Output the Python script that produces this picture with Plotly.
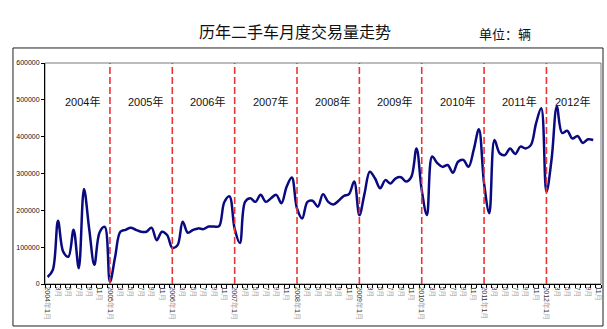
import plotly.graph_objects as go

# Monthly used-car transaction volume (vehicles), Jan 2004 - Oct 2012
years = [2004, 2005, 2006, 2007, 2008, 2009, 2010, 2011, 2012]
sales_2004 = [19000, 38000, 172000, 88000, 74000, 147000, 43000, 258000, 150000, 52000, 140000, 155000]
sales_2005 = [6000, 74000, 142000, 147000, 153000, 147000, 142000, 142000, 153000, 119000, 142000, 133000]
sales_2006 = [98000, 105000, 169000, 139000, 147000, 151000, 149000, 156000, 156000, 157000, 222000, 238000]
sales_2007 = [150000, 111000, 223000, 233000, 223000, 242000, 223000, 233000, 242000, 219000, 264000, 289000]
sales_2008 = [205000, 178000, 223000, 226000, 210000, 244000, 223000, 216000, 226000, 239000, 244000, 278000]
sales_2009 = [187000, 246000, 305000, 287000, 260000, 282000, 273000, 287000, 290000, 278000, 291000, 368000]
sales_2010 = [255000, 187000, 346000, 328000, 318000, 323000, 302000, 332000, 337000, 318000, 364000, 420000]
sales_2011 = [273000, 192000, 391000, 355000, 350000, 368000, 353000, 373000, 368000, 377000, 436000, 477000]
sales_2012 = [250000, 340000, 482000, 410000, 416000, 395000, 402000, 383000, 393000, 391000]

monthly_sales = (sales_2004 + sales_2005 + sales_2006 + sales_2007 + sales_2008
                 + sales_2009 + sales_2010 + sales_2011 + sales_2012)

# Category axis runs from 2004-1 to 2012-11
categories = [(y, m) for y in years for m in range(1, 13)][:107]
y_ticks = [0, 100000, 200000, 300000, 400000, 500000, 600000]

title_text = "历年二手车月度交易量走势"
unit_text = "单位：辆"

CJK = "Liberation Sans, Noto Sans CJK SC, sans-serif"


def month_label(y, m):
    dark = "#333333"
    light = "#a8a8a8"
    if m == 1:
        return (f'<span style="color:{dark}">{y}</span><span style="color:{light}">年</span>'
                f'<span style="color:{dark}">{m}</span><span style="color:{light}">月</span>')
    return f'<span style="color:{dark}">{m}</span><span style="color:{light}">月</span>'


tick_idx = [i for i in range(len(categories)) if i % 2 == 0]
tick_txt = [month_label(*categories[i]) for i in tick_idx]

fig = go.Figure()
fig.add_trace(go.Scatter(
    x=list(range(len(monthly_sales))),
    y=monthly_sales,
    mode="lines",
    line=dict(color="#0a0a80", width=2.5, shape="spline", smoothing=1.0),
    hoverinfo="skip",
))

shapes = []
# plot-area frame
shapes.append(dict(type="rect", xref="paper", yref="paper", x0=0, x1=1, y0=0, y1=1,
                   line=dict(color="#7a7a7a", width=1), layer="below"))
# outer chart border
shapes.append(dict(type="rect", xref="paper", yref="paper",
                   x0=-0.0576, x1=1.0036, y0=-0.19, y1=1.068,
                   line=dict(color="#202020", width=1)))

annotations = []
for yr in years:
    start = categories.index((yr, 1))
    if yr != years[0]:
        shapes.append(dict(type="line", xref="x", yref="y", x0=start, x1=start,
                           y0=0, y1=y_ticks[-1],
                           line=dict(color="#ee3333", width=1.6, dash="7px,3px")))
    label_x = min(start + 6.8, len(categories) - 6)
    annotations.append(dict(x=label_x, y=495000, xref="x", yref="y",
                            text=f"{yr}年", showarrow=False,
                            font=dict(size=11, color="#111111", family=CJK)))

annotations.append(dict(x=0.4496, y=1.1855, xref="paper", yref="paper", text=title_text,
                        showarrow=False, font=dict(size=16, color="#111111", family=CJK)))
annotations.append(dict(x=0.877, y=1.172, xref="paper", yref="paper", text=unit_text,
                        showarrow=False, font=dict(size=13, color="#111111", family=CJK)))

fig.update_layout(
    width=607, height=329,
    margin=dict(l=45, r=6, t=63, b=45),
    paper_bgcolor="white", plot_bgcolor="white",
    showlegend=False,
    font=dict(family=CJK),
    shapes=shapes,
    annotations=annotations,
    xaxis=dict(
        range=[-0.5, len(categories) - 0.5],
        tickmode="array", tickvals=tick_idx, ticktext=tick_txt,
        tickangle=90, tickfont=dict(size=7, color="#333333", family=CJK),
        ticks="", showline=True, linecolor="black", linewidth=1,
        showgrid=False, zeroline=False,
        minor=dict(tickmode="linear", tick0=-0.5, dtick=1, ticks="outside",
                   ticklen=3, tickcolor="black", showgrid=False),
    ),
    yaxis=dict(
        range=[0, y_ticks[-1]], tickmode="array", tickvals=y_ticks,
        ticktext=[str(v) for v in y_ticks],
        tickfont=dict(size=7, color="#111111", family="Liberation Sans"),
        ticks="outside", ticklen=3, tickcolor="black",
        showline=True, linecolor="black", linewidth=1,
        showgrid=False, zeroline=False,
    ),
)

fig.write_html("out.html")
